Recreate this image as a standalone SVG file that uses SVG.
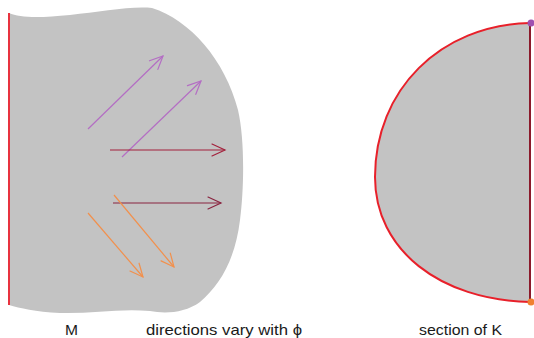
<svg xmlns="http://www.w3.org/2000/svg" width="534" height="338" viewBox="0 0 534 338">
<style>
.txt{font-family:"Liberation Sans",Arial,sans-serif;font-size:15px;fill:#1a1a1a}
.arr{fill:none;stroke-width:1.2}
.hd{fill:none;stroke-width:1.2;stroke-linecap:round}
</style>
<defs>
<marker id="mP" markerUnits="userSpaceOnUse" markerWidth="30" markerHeight="30" refX="0" refY="0" viewBox="-15 -15 30 30" orient="auto" overflow="visible"><path class="hd" d="M-13,-6 L0,0 L-13,6" stroke="#B46EC4"/></marker>
<marker id="mR" markerUnits="userSpaceOnUse" markerWidth="30" markerHeight="30" refX="0" refY="0" viewBox="-15 -15 30 30" orient="auto" overflow="visible"><path class="hd" d="M-13,-6 L0,0 L-13,6" stroke="#A3213C"/></marker>
<marker id="mD" markerUnits="userSpaceOnUse" markerWidth="30" markerHeight="30" refX="0" refY="0" viewBox="-15 -15 30 30" orient="auto" overflow="visible"><path class="hd" d="M-13,-6 L0,0 L-13,6" stroke="#8A2440"/></marker>
<marker id="mO" markerUnits="userSpaceOnUse" markerWidth="30" markerHeight="30" refX="0" refY="0" viewBox="-15 -15 30 30" orient="auto" overflow="visible"><path class="hd" d="M-13,-6 L0,0 L-13,6" stroke="#F2904C"/></marker>
</defs>
<g id="M">
<path d="M9,13 C20,18 40,18 70,15 C100,12 130,6 152,8 C190,20 225,60 238,110 C245,140 244,190 240,220 C235,260 220,285 200,302 C185,313 165,314 150,311 C120,308 90,314 60,313 C35,312 20,308 9,305 Z" fill="#C3C3C3"/>
<line x1="9" y1="13" x2="9" y2="305" stroke="#E8333F" stroke-width="2"/>
</g>
<g id="connectors">
<line class="arr" x1="88" y1="129" x2="163" y2="56" stroke="#B46EC4" marker-end="url(#mP)"/>
<line class="arr" x1="122" y1="157" x2="201" y2="81" stroke="#B46EC4" marker-end="url(#mP)"/>
<line class="arr" x1="110" y1="150" x2="225" y2="150" stroke="#A3213C" marker-end="url(#mR)"/>
<line class="arr" x1="113" y1="203" x2="221" y2="203" stroke="#8A2440" marker-end="url(#mD)"/>
<line class="arr" x1="88" y1="213" x2="143" y2="277" stroke="#F2904C" marker-end="url(#mO)"/>
<line class="arr" x1="114" y1="195" x2="174" y2="267" stroke="#F2904C" marker-end="url(#mO)"/>
</g>
<g id="K">
<path d="M530,23 C440,25 375,90 375,177 C375,250 440,300 530,302 Z" fill="#C3C3C3"/>
<path d="M530,23 C440,25 375,90 375,177 C375,250 440,300 530,302" fill="none" stroke="#E8202A" stroke-width="2"/>
<line x1="530" y1="23" x2="530" y2="302" stroke="#8B1A2B" stroke-width="2"/>
<circle cx="531" cy="23" r="3.5" fill="#A050B0"/>
<circle cx="531" cy="302" r="3.5" fill="#F08030"/>
</g>
<g id="labels">
<text class="txt" x="65" y="335" textLength="13" lengthAdjust="spacingAndGlyphs">M</text>
<text class="txt" x="146" y="335" textLength="156" lengthAdjust="spacingAndGlyphs">directions vary with ϕ</text>
<text class="txt" x="419" y="335" textLength="83" lengthAdjust="spacingAndGlyphs">section of K</text>
</g>
</svg>
